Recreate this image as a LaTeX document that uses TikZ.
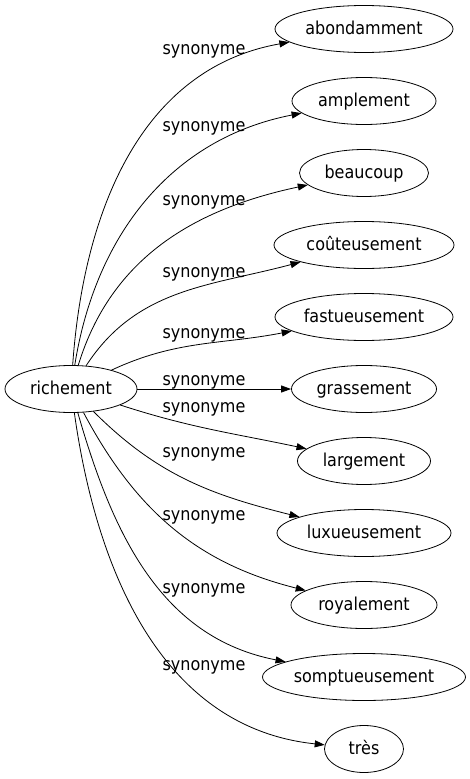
\documentclass[tikz,border=0pt]{standalone}
\usepackage{fontspec}
\setmainfont{DejaVu Sans Condensed}
\usetikzlibrary{shapes.geometric,positioning,arrows.meta}

\begin{document}
\begin{tikzpicture}[x=1pt,y=1pt,->,>={Triangle[length=10pt,width=7pt]},line width=0.8pt,
  node distance=72pt,
  word/.style={ellipse,draw,inner sep=0pt,minimum height=47pt,text height=14.6pt,text depth=4pt,
    font=\fontsize{17.8}{20}\selectfont},
  syn/.style={anchor=base,inner sep=0pt,font=\fontsize{17.8}{20}\selectfont}]
  \useasboundingbox (0,0) rectangle (470,-779);
  \node[word,minimum width=132pt]   (rich) at (71,-389) {richement};
  \node[word,minimum width=178pt]   (abon) at (364,-29) {abondamment};
  \node[word,minimum width=144pt]   (ampl) [below of=abon] {amplement};
  \node[word,minimum width=129pt]   (beau) [below of=ampl] {beaucoup};
  \node[word,minimum width=180pt]   (cout) [below of=beau] {coûteusement};
  \node[word,minimum width=178pt]   (fast) [below of=cout] {fastueusement};
  \node[word,minimum width=145pt]   (grass) [below of=fast] {grassement};
  \node[word,minimum width=133pt]   (larg) [below of=grass] {largement};
  \node[word,minimum width=174pt]   (luxu) [below of=larg] {luxueusement};
  \node[word,minimum width=146pt]   (roya) [below of=luxu] {royalement};
  \node[word,minimum width=203pt]   (somp) [below of=roya] {somptueusement};
  \node[word,minimum width=79pt]    (tres) [below of=somp] {très};

  % edge labels
  \node[syn] (s1) at (204,-54) {synonyme};
  \node[syn] (s2) at (204,-131) {synonyme};
  \node[syn] (s3) at (204,-205.5) {synonyme};
  \node[syn] (s4) at (204,-277) {synonyme};
  \node[syn] (s5) at (204,-338) {synonyme};
  \node[syn] (s6) at (204,-385) {synonyme};
  \node[syn] (s7) at (204,-412.5) {synonyme};
  \node[syn] (s8) at (204,-457.5) {synonyme};
  \node[syn] (s9) at (204,-520.5) {synonyme};
  \node[syn] (s10) at (204,-593.5) {synonyme};
  \node[syn] (s11) at (204,-670) {synonyme};

  \path (rich) edge [out=86,in=190] (abon)
               edge [out=81,in=191] (ampl)
               edge [out=73,in=192] (beau)
               edge [out=57,in=195] (cout)
               edge [out=25,in=191] (fast)
               edge (grass)
               edge [out=-18,in=168] (larg)
               edge [out=-45,in=166] (luxu)
               edge [out=-62,in=166] (roya)
               edge [out=-74,in=169] (somp)
               edge [out=-82,in=174] (tres);
\end{tikzpicture}
\end{document}
